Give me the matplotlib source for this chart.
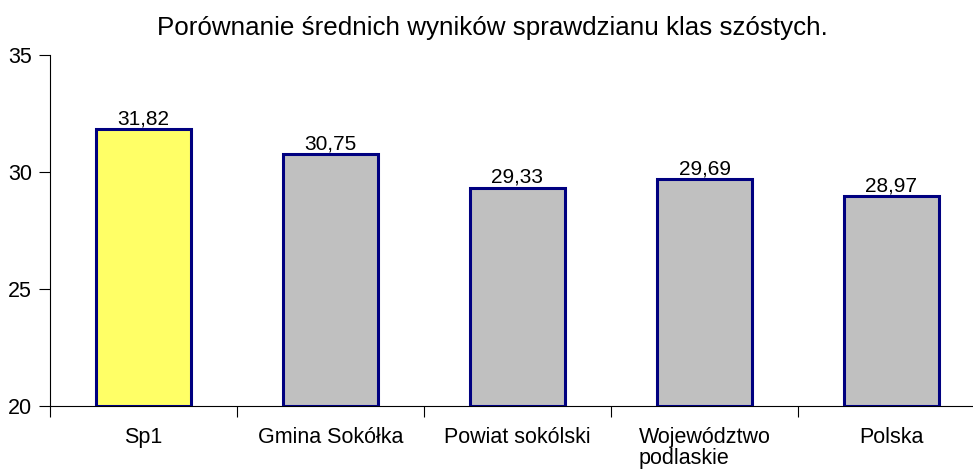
import matplotlib
matplotlib.use("Agg")
import matplotlib.pyplot as plt
import numpy as np

plt.rcParams['font.family'] = ['Liberation Sans', 'DejaVu Sans']

categories = ["Sp1", "Gmina Sokółka", "Powiat sokólski", "Województwo\npodlaskie", "Polska"]
values = [31.82, 30.75, 29.33, 29.69, 28.97]
colors = ["#FFFF66", "#C0C0C0", "#C0C0C0", "#C0C0C0", "#C0C0C0"]
title = "Porównanie średnich wyników sprawdzianu klas szóstych."

fig = plt.figure(figsize=(9.73, 4.71), dpi=100)
W, H = 973, 471
x0, x1 = 50, 985
y0, y1 = 406, 55
ax = fig.add_axes([x0 / W, 1 - y0 / H, (x1 - x0) / W, (y0 - y1) / H])

x = np.arange(len(categories))
ax.bar(x, [v - 20 for v in values], bottom=20, width=0.51, color=colors,
       edgecolor="#000080", linewidth=2.2, zorder=3)
for xi, v in zip(x, values):
    ax.text(xi, v + 0.03, f"{v:.2f}".replace(".", ","), ha="center", va="bottom",
            fontsize=15, color="black")

ax.set_xlim(-0.5, len(categories) - 0.5)
ax.set_ylim(20, 35)
ax.set_yticks([20, 25, 30, 35])
ax.tick_params(axis="y", labelsize=15.5, length=8, width=0.8, direction="out", pad=5)
ax.set_xticks(x)
ax.set_xticklabels(categories, fontsize=15.5, linespacing=1.0)
for lbl in ax.get_xticklabels():
    lbl.set_multialignment("left")
ax.tick_params(axis="x", length=0, pad=15)
ax.set_xticks(np.arange(len(categories) + 1) - 0.5, minor=True)
ax.tick_params(axis="x", which="minor", length=8, width=0.8, direction="out")
for s in ["top", "right"]:
    ax.spines[s].set_visible(False)
for s in ["left", "bottom"]:
    ax.spines[s].set_linewidth(0.8)

fig.text(492 / W, 1 - 35 / H, title, ha="center", va="baseline", fontsize=18.7)

fig.savefig("out.png", dpi=100)
